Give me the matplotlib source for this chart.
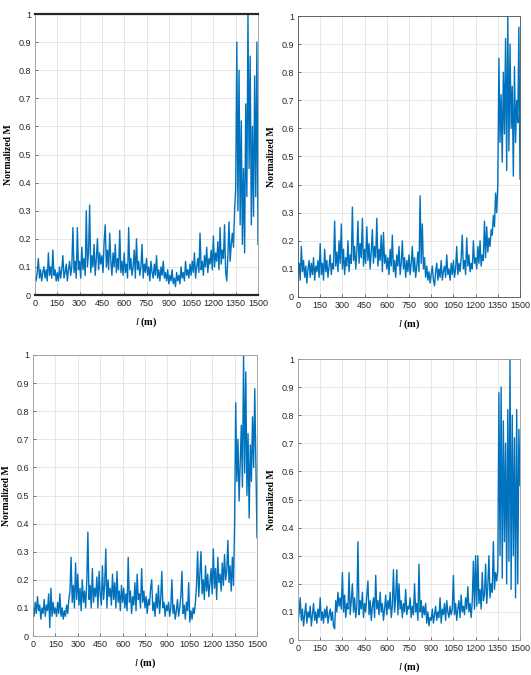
import numpy as np
import matplotlib
matplotlib.use("Agg")
from matplotlib import pyplot as plt
from matplotlib.ticker import FormatStrFormatter

plt.rcParams['font.family'] = ['Liberation Sans', 'DejaVu Sans']
plt.rcParams['mathtext.fontset'] = 'custom'
plt.rcParams['mathtext.rm'] = 'Liberation Serif'
plt.rcParams['mathtext.it'] = 'Liberation Serif:italic'
plt.rcParams['mathtext.bf'] = 'Liberation Serif:bold'

m_a = [
    0.06, 0.05, 0.08, 0.13, 0.06, 0.09, 0.05, 0.08, 0.10, 0.06, 0.09, 0.05, 0.15, 0.07, 0.10, 0.06, 0.16, 0.07, 0.09, 0.05,
    0.08, 0.05, 0.10, 0.06, 0.09, 0.14, 0.06, 0.08, 0.11, 0.05, 0.09, 0.12, 0.07, 0.10, 0.24, 0.08, 0.12, 0.06, 0.24, 0.09,
    0.12, 0.06, 0.17, 0.09, 0.13, 0.07, 0.30, 0.10, 0.15, 0.32, 0.08, 0.14, 0.10, 0.18, 0.07, 0.13, 0.20, 0.09, 0.15, 0.11,
    0.14, 0.08, 0.19, 0.25, 0.10, 0.16, 0.09, 0.22, 0.12, 0.07, 0.15, 0.10, 0.18, 0.08, 0.13, 0.09, 0.23, 0.08, 0.12, 0.07,
    0.15, 0.08, 0.11, 0.06, 0.24, 0.09, 0.13, 0.07, 0.10, 0.16, 0.06, 0.20, 0.09, 0.12, 0.07, 0.10, 0.18, 0.06, 0.11, 0.08,
    0.13, 0.07, 0.10, 0.05, 0.12, 0.08, 0.06, 0.11, 0.07, 0.14, 0.06, 0.09, 0.05, 0.10, 0.07, 0.12, 0.06, 0.08, 0.05, 0.09,
    0.04, 0.07, 0.05, 0.09, 0.04, 0.06, 0.03, 0.08, 0.05, 0.07, 0.04, 0.10, 0.06, 0.08, 0.05, 0.12, 0.07, 0.09, 0.06, 0.11,
    0.07, 0.12, 0.08, 0.15, 0.06, 0.10, 0.13, 0.08, 0.22, 0.09, 0.12, 0.07, 0.14, 0.10, 0.17, 0.08, 0.13, 0.11, 0.16, 0.09,
    0.21, 0.10, 0.15, 0.12, 0.19, 0.09, 0.24, 0.11, 0.16, 0.13, 0.25, 0.08, 0.05, 0.14, 0.26, 0.12, 0.18, 0.22, 0.17, 0.30,
    0.38, 0.90, 0.30, 0.80, 0.25, 0.62, 0.18, 0.45, 0.15, 0.68, 0.35, 1.00, 0.45, 0.85, 0.25, 0.60, 0.28, 0.78, 0.35, 0.90,
    0.18,
]

m_b = [
    0.08, 0.12, 0.06, 0.18, 0.09, 0.13, 0.07, 0.11, 0.05, 0.10, 0.13, 0.07, 0.12, 0.08, 0.14, 0.06, 0.11, 0.09, 0.13, 0.07,
    0.19, 0.08, 0.12, 0.06, 0.17, 0.09, 0.13, 0.07, 0.11, 0.15, 0.08, 0.12, 0.10, 0.27, 0.11, 0.16, 0.09, 0.20, 0.12, 0.26,
    0.10, 0.17, 0.08, 0.14, 0.11, 0.20, 0.09, 0.15, 0.12, 0.32, 0.13, 0.18, 0.10, 0.16, 0.27, 0.12, 0.19, 0.14, 0.28, 0.11,
    0.17, 0.12, 0.25, 0.13, 0.19, 0.10, 0.16, 0.24, 0.12, 0.18, 0.14, 0.28, 0.11, 0.17, 0.13, 0.22, 0.09, 0.23, 0.12, 0.15,
    0.10, 0.14, 0.08, 0.17, 0.11, 0.22, 0.09, 0.13, 0.07, 0.15, 0.11, 0.18, 0.08, 0.12, 0.20, 0.10, 0.14, 0.07, 0.13, 0.09,
    0.15, 0.08, 0.12, 0.18, 0.09, 0.14, 0.07, 0.11, 0.16, 0.09, 0.36, 0.12, 0.26, 0.10, 0.14, 0.07, 0.11, 0.06, 0.09, 0.05,
    0.08, 0.11, 0.06, 0.04, 0.09, 0.12, 0.06, 0.10, 0.07, 0.13, 0.06, 0.09, 0.11, 0.07, 0.15, 0.08, 0.10, 0.06, 0.12, 0.08,
    0.13, 0.07, 0.10, 0.18, 0.08, 0.12, 0.09, 0.14, 0.22, 0.10, 0.13, 0.08, 0.21, 0.11, 0.15, 0.09, 0.12, 0.10, 0.20, 0.12,
    0.14, 0.10, 0.18, 0.12, 0.20, 0.11, 0.15, 0.13, 0.27, 0.14, 0.25, 0.16, 0.21, 0.18, 0.24, 0.22, 0.29, 0.25, 0.37, 0.30,
    0.40, 0.85, 0.55, 0.72, 0.48, 0.80, 0.58, 0.92, 0.45, 1.00, 0.52, 0.90, 0.60, 0.75, 0.43, 0.82, 0.55, 0.70, 0.62, 0.96,
    0.42,
]

m_c = [
    0.10, 0.07, 0.12, 0.08, 0.14, 0.09, 0.11, 0.06, 0.10, 0.08, 0.13, 0.07, 0.11, 0.09, 0.15, 0.03, 0.17, 0.07, 0.12, 0.08,
    0.10, 0.07, 0.12, 0.08, 0.15, 0.07, 0.10, 0.06, 0.09, 0.07, 0.11, 0.08, 0.13, 0.16, 0.28, 0.12, 0.18, 0.10, 0.26, 0.13,
    0.22, 0.11, 0.17, 0.09, 0.20, 0.12, 0.16, 0.10, 0.19, 0.37, 0.13, 0.18, 0.10, 0.24, 0.12, 0.17, 0.14, 0.21, 0.10, 0.23,
    0.15, 0.11, 0.25, 0.13, 0.18, 0.31, 0.10, 0.20, 0.14, 0.17, 0.11, 0.22, 0.13, 0.19, 0.10, 0.23, 0.12, 0.16, 0.09, 0.18,
    0.12, 0.17, 0.10, 0.15, 0.09, 0.28, 0.12, 0.16, 0.08, 0.14, 0.11, 0.19, 0.09, 0.22, 0.13, 0.15, 0.10, 0.24, 0.12, 0.16,
    0.10, 0.14, 0.08, 0.13, 0.11, 0.17, 0.20, 0.09, 0.12, 0.07, 0.15, 0.10, 0.18, 0.08, 0.13, 0.23, 0.10, 0.12, 0.07, 0.11,
    0.09, 0.12, 0.07, 0.10, 0.20, 0.08, 0.11, 0.06, 0.09, 0.13, 0.07, 0.10, 0.14, 0.23, 0.08, 0.11, 0.06, 0.12, 0.09, 0.19,
    0.05, 0.09, 0.06, 0.10, 0.08, 0.12, 0.18, 0.30, 0.14, 0.22, 0.30, 0.15, 0.20, 0.13, 0.25, 0.16, 0.22, 0.14, 0.19, 0.24,
    0.15, 0.31, 0.17, 0.24, 0.13, 0.28, 0.19, 0.22, 0.16, 0.26, 0.18, 0.29, 0.20, 0.23, 0.34, 0.19, 0.25, 0.16, 0.28, 0.18,
    0.40, 0.83, 0.55, 0.70, 0.48, 0.62, 0.75, 0.53, 1.00, 0.58, 0.94, 0.50, 0.72, 0.42, 0.68, 0.55, 0.78, 0.60, 0.88, 0.62,
    0.35,
]

m_d = [
    0.06, 0.10, 0.15, 0.07, 0.11, 0.05, 0.09, 0.13, 0.06, 0.10, 0.08, 0.12, 0.05, 0.09, 0.13, 0.07, 0.10, 0.06, 0.11, 0.08,
    0.15, 0.07, 0.10, 0.06, 0.11, 0.08, 0.12, 0.06, 0.09, 0.11, 0.07, 0.10, 0.05, 0.04, 0.14, 0.10, 0.17, 0.12, 0.15, 0.11,
    0.24, 0.10, 0.16, 0.08, 0.13, 0.11, 0.24, 0.09, 0.14, 0.20, 0.10, 0.15, 0.08, 0.12, 0.35, 0.09, 0.14, 0.11, 0.17, 0.08,
    0.13, 0.10, 0.16, 0.21, 0.09, 0.14, 0.07, 0.12, 0.15, 0.08, 0.23, 0.11, 0.14, 0.09, 0.17, 0.10, 0.13, 0.07, 0.11, 0.16,
    0.09, 0.14, 0.11, 0.17, 0.08, 0.12, 0.25, 0.10, 0.15, 0.25, 0.09, 0.20, 0.11, 0.14, 0.08, 0.13, 0.10, 0.18, 0.09, 0.12,
    0.11, 0.15, 0.08, 0.12, 0.09, 0.20, 0.10, 0.13, 0.07, 0.27, 0.10, 0.14, 0.08, 0.12, 0.09, 0.13, 0.06, 0.10, 0.05, 0.08,
    0.07, 0.11, 0.06, 0.09, 0.12, 0.07, 0.10, 0.08, 0.15, 0.06, 0.11, 0.09, 0.13, 0.07, 0.14, 0.10, 0.08, 0.12, 0.09, 0.11,
    0.23, 0.09, 0.13, 0.07, 0.11, 0.14, 0.08, 0.16, 0.10, 0.12, 0.09, 0.15, 0.11, 0.19, 0.10, 0.13, 0.08, 0.14, 0.28, 0.11,
    0.30, 0.12, 0.30, 0.13, 0.18, 0.11, 0.24, 0.14, 0.16, 0.27, 0.13, 0.19, 0.30, 0.15, 0.20, 0.17, 0.35, 0.18, 0.24, 0.21,
    0.25, 0.88, 0.30, 0.90, 0.22, 0.78, 0.35, 0.70, 0.20, 0.82, 0.28, 1.00, 0.18, 0.80, 0.30, 0.72, 0.15, 0.82, 0.20, 0.75,
    0.55,
]

x_ticks = [0, 150, 300, 450, 600, 750, 900, 1050, 1200, 1350, 1500]
y_ticks = [0, 0.1, 0.2, 0.3, 0.4, 0.5, 0.6, 0.7, 0.8, 0.9, 1]

fig = plt.figure(figsize=(5.31, 6.75), dpi=100)

# axes boxes in pixels: left, top, right, bottom
boxes = [(35, 14, 258, 295), (298, 16, 520, 297), (33, 355, 257, 636), (298, 359, 520, 640)]
series = [m_a, m_b, m_c, m_d]
W, H = 531.0, 675.0

for i, (box, m) in enumerate(zip(boxes, series)):
    l, t, r, b = box
    ax = fig.add_axes([l / W, 1 - b / H, (r - l) / W, (b - t) / H])
    x = np.linspace(0, 1500, len(m))
    ax.plot(x, m, color='#0072BD', lw=1.0)
    ax.set_xlim(0, 1500)
    ax.set_ylim(0, 1)
    ax.set_xticks(x_ticks)
    ax.set_yticks(y_ticks)
    ax.yaxis.set_major_formatter(FormatStrFormatter('%g'))
    ax.grid(True, color='#e3e3e3', lw=0.6)
    ax.set_axisbelow(True)
    ax.tick_params(direction='in', length=2, width=0.5, labelsize=6.5, colors='#404040', pad=3)
    ax.tick_params(labelcolor='#262626')
    for s in ax.spines.values():
        s.set_color('#9a9a9a')
        s.set_linewidth(0.6)
    if i == 0:
        ax.spines['top'].set_color('#262626')
        ax.spines['top'].set_linewidth(1.6)
        ax.spines['bottom'].set_color('#262626')
        ax.spines['bottom'].set_linewidth(1.6)
    if i == 1:
        for s in ax.spines.values():
            s.set_color('#4d4d4d')
    ax.set_ylabel('Normalized M', family='Liberation Serif', fontweight='bold', fontsize=7, labelpad=4)
    ax.set_xlabel(r'$\mathit{l}\ \mathbf{(m)}$', fontsize=7.5, labelpad=5)

fig.savefig('out.png', dpi=100)
